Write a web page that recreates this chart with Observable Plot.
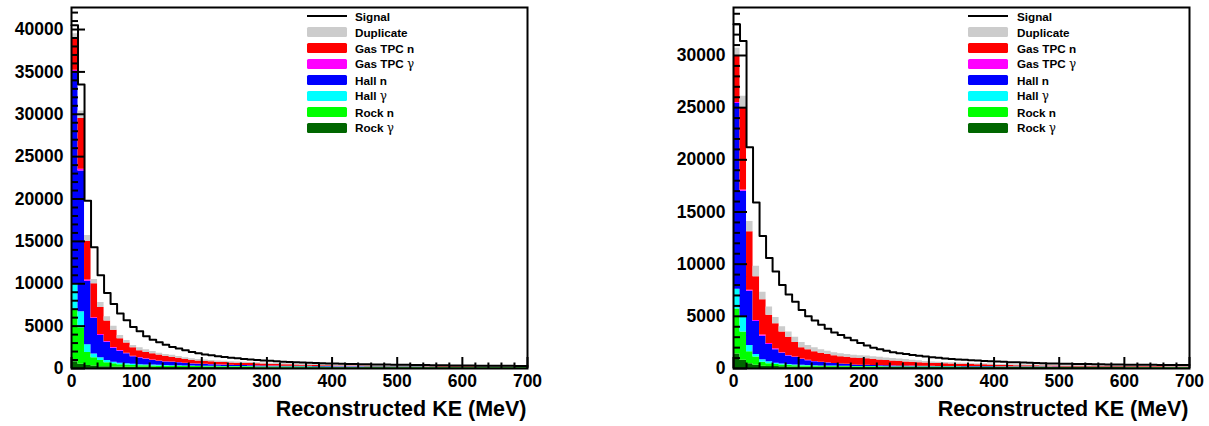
<!DOCTYPE html>
<html><head><meta charset="utf-8">
<script src="https://cdn.jsdelivr.net/npm/d3@7"></script>
<script src="https://cdn.jsdelivr.net/npm/@observablehq/plot@0.6"></script>
<style>
body{margin:0;background:#fff;font-family:"Liberation Sans",Arial,sans-serif;}
#wrap{display:flex;width:1209px;height:426px;overflow:hidden;}
.panel{position:relative;height:426px;}
.legend{position:absolute;font-weight:bold;font-size:11.7px;color:#000;}
.row{position:absolute;left:0;height:16px;display:flex;align-items:center;white-space:nowrap;}
.sw{width:40px;height:10px;border-radius:1.5px;}
.ln{width:40px;height:0;border-top:2px solid #000;}
.g{font-family:"DejaVu Serif","Liberation Serif",serif;font-weight:normal;font-size:12px;}
</style></head><body><div id="wrap"></div>
<script>
const xMax = 700;
const binStart = d3.range(0, xMax, 10);
const seriesNames = ["Rock γ","Rock n","Hall γ","Hall n","Gas TPC γ","Gas TPC n","Duplicate"];
const seriesColors = ["#006600","#00ff00","#00ffff","#0000ff","#ff00ff","#ff0000","#cccccc"];
const legendOrder = ["Signal","Duplicate","Gas TPC n","Gas TPC γ","Hall n","Hall γ","Rock n","Rock γ"];
const xLabel = "Reconstructed KE (MeV)";
const xMajorTicks = [0,100,200,300,400,500,600,700];
const leftYMajor = [0,5000,10000,15000,20000,25000,30000,35000,40000];
const rightYMajor = [0,5000,10000,15000,20000,25000,30000];

// ---- left panel (counts per 10 MeV bin) ----
const rockG_L = [800,500,350,300,220,200,180,170,160,150,
150,140,140,130,130,130,130,120,120,120,
120,120,110,110,110,110,110,110,100,100,
100,100,100,100,100,100,100,100,100,100,
100,100,100,100,100,100,100,100,100,100,
100,100,100,100,100,100,100,100,100,100,
100,100,100,100,100,100,100,100,100,100];
const rockN_L = [6050,4300,1550,960,730,470,370,280,240,210,
180,170,160,150,140,130,125,120,110,105,
100,98,95,93,90,88,86,84,82,80,
80,78,76,74,72,70,68,66,64,62,
60,60,58,58,56,56,54,54,52,52,
50,50,50,48,48,48,46,46,46,45,
44,44,43,43,42,42,41,41,40,40];
const hallG_L = [3150,1900,900,440,310,280,200,180,150,140,
120,110,100,90,80,70,65,60,55,52,
50,48,46,44,42,40,38,36,34,32,
30,29,28,27,26,25,24,23,22,21,
20,20,20,20,20,20,20,20,20,20,
20,20,18,18,16,16,14,14,12,12,
12,12,10,10,10,10,10,10,10,10];
const hallN_L = [25000,16600,7500,4200,2640,2150,1650,1420,1200,900,
800,680,550,480,430,420,360,300,260,230,
200,180,165,150,135,120,110,100,90,80,
70,66,62,58,55,52,50,47,44,42,
40,39,38,37,36,35,34,33,32,31,
30,30,29,28,27,26,25,24,24,23,
23,22,22,21,21,21,20,20,20,20];
const gasG_L = [200,200,150,100,100,80,70,60,50,50,
40,40,40,30,30,30,25,25,20,20,
20,18,16,14,12,10,10,10,10,10,
10,10,10,10,10,10,10,10,10,10,
10,10,10,10,10,10,10,10,10,10,
5,5,5,5,5,5,5,5,5,5,
5,5,5,5,5,5,5,5,5,5];
const gasN_L = [3800,6000,4550,4000,3200,2420,2030,1390,1200,1000,
810,760,760,720,640,560,500,450,410,370,
340,320,300,285,270,260,250,240,230,220,
210,195,180,165,150,135,120,105,90,80,
70,68,66,64,62,60,58,56,54,52,
50,49,48,47,46,45,44,43,42,41,
40,39,38,37,36,35,34,33,32,30];
const dup_L = [500,900,700,500,600,500,500,400,300,250,
350,300,250,200,200,210,200,190,180,170,
170,165,160,155,150,150,145,140,135,130,
130,130,130,130,130,130,130,130,130,130,
130,128,126,124,122,120,118,116,114,112,
110,108,106,104,102,100,98,96,94,92,
90,89,88,87,86,85,84,83,82,80];
const signal_L = [40500,33500,19800,14300,11000,8900,7600,6500,5700,4900,
4400,3800,3400,3100,2800,2550,2350,2150,1950,1800,
1650,1550,1450,1350,1280,1200,1120,1050,1000,950,
900,850,800,770,730,700,670,650,620,600,
580,560,540,520,500,490,480,470,460,450,
440,430,420,410,400,390,380,370,360,350,
345,340,335,330,325,320,315,310,305,300];

// ---- right panel ----
const rockG_R = [1400,800,450,300,220,200,180,160,150,140,
130,130,120,120,120,110,110,110,100,100,
100,100,100,100,100,100,100,100,100,100,
100,100,100,100,100,100,100,100,100,100,
90,90,90,90,90,90,90,90,90,90,
90,90,90,90,90,90,90,90,90,90,
80,80,80,80,80,80,80,80,80,80];
const rockN_R = [4300,2700,1150,800,380,250,200,170,150,130,
120,110,100,90,80,80,75,70,65,60,
60,58,56,54,52,50,48,46,44,42,
40,40,40,40,40,40,40,40,40,40,
40,39,38,37,36,35,34,33,32,31,
30,30,30,30,30,30,30,30,30,30,
30,30,30,30,30,30,30,30,30,30];
const hallG_R = [1900,1400,600,250,230,190,120,100,80,70,
60,50,50,40,40,40,35,35,30,30,
30,28,26,24,22,20,20,20,20,20,
20,19,18,17,16,15,14,13,12,11,
10,10,10,10,10,10,10,10,10,10,
10,10,10,10,10,10,10,10,10,10,
10,10,10,10,10,10,10,10,10,10];
const hallN_R = [17800,12100,5200,3150,2270,1660,1300,1020,820,710,
560,460,380,330,280,240,200,170,140,120,
110,100,90,82,76,70,64,58,52,46,
40,39,38,37,36,35,34,33,32,31,
30,29,28,27,26,25,24,23,22,21,
20,20,19,18,17,16,15,14,13,12,
12,12,11,11,11,11,10,10,10,10];
const gasG_R = [100,100,100,100,100,100,100,50,50,50,
30,30,30,20,20,20,15,15,10,10,
10,10,10,10,10,10,10,10,10,10,
5,5,5,5,5,5,5,5,5,5,
5,5,5,5,5,5,5,5,5,5,
5,5,5,5,5,5,5,5,5,5,
5,5,5,5,5,5,5,5,5,5];
const gasN_R = [4500,7900,5600,4200,3400,2700,2400,2000,1750,1400,
1100,1020,920,870,800,730,700,680,650,640,
620,580,540,500,460,420,390,360,330,300,
280,265,250,235,220,205,190,175,160,145,
130,120,112,105,100,96,92,88,84,80,
70,68,66,64,62,60,58,56,54,52,
50,49,48,47,46,45,44,43,42,40];
const dup_R = [700,1100,1000,1000,700,800,600,500,500,500,
500,400,400,330,320,280,280,270,270,270,
270,260,250,240,235,230,220,200,180,160,
150,140,130,120,115,110,105,100,95,90,
90,88,86,84,82,80,80,80,80,80,
80,78,76,74,72,70,68,66,64,62,
60,59,58,57,56,55,54,53,52,50];
const signal_R = [33000,31400,21200,15900,12700,10600,9300,8000,7100,6400,
5600,5000,4600,4200,3800,3450,3200,2950,2700,2450,
2200,2000,1850,1700,1550,1450,1380,1300,1220,1150,
1080,1020,970,920,870,830,790,760,730,700,
670,640,610,590,570,550,530,510,490,470,
460,450,440,430,420,410,400,390,380,375,
370,365,360,355,350,345,340,335,330,325];

const panels = [
  {width: 604, marginLeft: 71, marginRight: 77, yMax: 42600, yMajor: leftYMajor, legendLeft: 307, textGap: 8,
   series: [rockG_L, rockN_L, hallG_L, hallN_L, gasG_L, gasN_L, dup_L], signal: signal_L},
  {width: 605, marginLeft: 129, marginRight: 20, yMax: 34600, yMajor: rightYMajor, legendLeft: 364, textGap: 9,
   series: [rockG_R, rockN_R, hallG_R, hallN_R, gasG_R, gasN_R, dup_R], signal: signal_R}
];

const wrap = document.getElementById("wrap");
const fontFam = "Liberation Sans, Arial, sans-serif";

for (const cfg of panels) {
  const stackRows = [];
  cfg.series.forEach((vals, k) => {
    binStart.forEach((x, i) => stackRows.push({x, value: vals[i], series: seriesNames[k]}));
    stackRows.push({x: xMax, value: vals[vals.length - 1], series: seriesNames[k]});
  });
  const sigRows = binStart.map((x, i) => ({x, value: cfg.signal[i]}));
  sigRows.push({x: xMax, value: cfg.signal[cfg.signal.length - 1]});

  const xMinor = d3.range(0, xMax + 1, 20).filter(v => v % 100 !== 0);
  const yMinor = d3.range(0, cfg.yMax, 1000).filter(v => v % 5000 !== 0);

  const chart = Plot.plot({
    width: cfg.width, height: 426,
    marginLeft: cfg.marginLeft, marginRight: cfg.marginRight, marginTop: 7, marginBottom: 58,
    x: {domain: [0, xMax]},
    y: {domain: [0, cfg.yMax]},
    color: {domain: seriesNames, range: seriesColors},
    style: {fontFamily: fontFam, fontWeight: "bold", background: "white", overflow: "visible", color: "black"},
    marks: [
      Plot.areaY(stackRows, {x: "x", y: "value", fill: "series", curve: "step-after"}),
      Plot.lineY(sigRows, {x: "x", y: "value", curve: "step-after", stroke: "#000", strokeWidth: 2}),
      Plot.axisX(xMinor, {tickSize: -5.5, fill: "none", strokeWidth: 2, label: null}),
      Plot.axisX(xMajorTicks, {tickSize: -11, fill: "none", strokeWidth: 2, label: null}),
      Plot.axisX(xMajorTicks, {tickSize: 0, tickPadding: 6, fontSize: 17.5, fontWeight: "bold", label: null, tickFormat: d => String(d)}),
      Plot.axisY(yMinor, {tickSize: -7, fill: "none", strokeWidth: 2, label: null}),
      Plot.axisY(cfg.yMajor, {tickSize: -14, fill: "none", strokeWidth: 2, label: null}),
      Plot.axisY(cfg.yMajor, {tickSize: 0, tickPadding: 8, fontSize: 17.5, fontWeight: "bold", label: null, tickFormat: d => String(d)}),
      Plot.frame({stroke: "#000", strokeWidth: 2}),
      Plot.text([xLabel], {frameAnchor: "bottom-right", textAnchor: "end", dy: 47, dx: -1, fontSize: 21.5, fontWeight: "bold"})
    ]
  });

  const div = document.createElement("div");
  div.className = "panel";
  div.style.width = cfg.width + "px";
  div.appendChild(chart);

  const leg = document.createElement("div");
  leg.className = "legend";
  leg.style.left = cfg.legendLeft + "px";
  leg.style.top = "8px";
  legendOrder.forEach((name, i) => {
    const row = document.createElement("div");
    row.className = "row";
    row.style.top = (16 * i) + "px";
    const sym = document.createElement("div");
    if (name === "Signal") sym.className = "ln";
    else { sym.className = "sw"; sym.style.background = seriesColors[seriesNames.indexOf(name)]; }
    sym.style.marginRight = cfg.textGap + "px";
    row.appendChild(sym);
    const lab = document.createElement("span");
    if (name.endsWith("γ")) {
      lab.appendChild(document.createTextNode(name.slice(0, -1)));
      const g = document.createElement("span");
      g.className = "g";
      g.textContent = "γ";
      lab.appendChild(g);
    } else lab.textContent = name;
    row.appendChild(lab);
    leg.appendChild(row);
  });
  div.appendChild(leg);
  wrap.appendChild(div);
}
</script></body></html>
